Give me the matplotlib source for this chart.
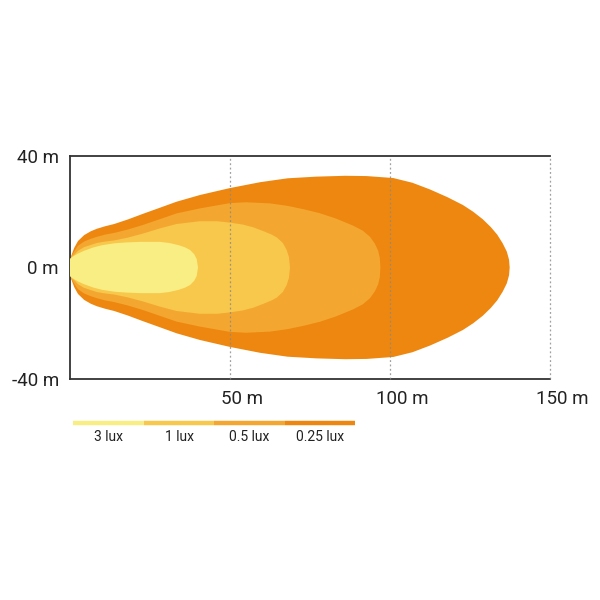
import matplotlib
matplotlib.use('Agg')
import matplotlib.pyplot as plt
from matplotlib.lines import Line2D
from matplotlib.transforms import ScaledTranslation

plt.rcParams['font.family'] = ['Roboto', 'DejaVu Sans']

# contour outlines, upper half (metres); the lower half is the mirror image
x_025 = [0, 0, 0.5, 1.3, 2.5, 4.4, 6.5, 8.4, 11, 13.8, 18, 22.9, 28, 33.3, 40.6, 50,
         59.4, 68, 77, 86, 92.7, 101, 107, 112.5, 118, 122.8, 126, 129, 131.5,
         133.5, 135.2, 136.5, 137.2, 137.4]
y_025 = [0, 3.0, 4.5, 7.0, 9.5, 11.6, 13.0, 13.9, 14.8, 15.6, 17.2, 19.3, 21.4, 23.6,
         26.0, 28.5, 30.6, 32.0, 32.6, 32.9, 32.8, 32.1, 30.4, 28.0, 25.2, 22.4,
         20.0, 17.3, 14.5, 11.8, 8.7, 5.7, 2.8, 0]

x_05 = [0, 0, 0.5, 1.3, 2.5, 4.4, 6.5, 8.4, 11, 13.8, 18, 22.9, 28, 33.3, 40.6, 50,
        55, 62.5, 68, 73, 78, 83, 88.5, 91.5, 93.75, 95.3, 96.3, 96.8, 97]
y_05 = [0, 3.0, 4.2, 5.7, 7.8, 9.3, 10.3, 11.0, 11.8, 12.4, 13.6, 15.3, 17.3, 19.4,
        21.2, 23.1, 23.4, 23.0, 22.1, 20.9, 19.5, 17.6, 15.0, 13.2, 11.0, 8.5, 6.0,
        3.5, 0]

x_1 = [0, 0, 0.5, 1.3, 2.5, 4.4, 6.5, 8.4, 11, 13.8, 18, 22.9, 28, 33.3, 40.6, 46,
       50, 54, 57.3, 60.5, 63, 64.6, 66.5, 67.7, 68.4, 68.75]
y_1 = [0, 3.0, 3.9, 4.5, 6.0, 7.3, 8.1, 8.8, 9.3, 9.7, 10.7, 12.2, 14.0, 15.6, 16.6,
       16.6, 16.1, 15.4, 14.4, 13.0, 11.8, 10.8, 8.8, 6.3, 3.8, 0]

x_3 = [0, 0, 0.5, 1.3, 2.5, 4.4, 7.3, 10, 14, 17.7, 22, 28, 31, 34, 36, 37.5, 38.8,
       39.6, 40]
y_3 = [0, 3.0, 3.6, 4.2, 5.0, 6.0, 7.2, 8.0, 8.7, 9.0, 9.2, 9.2, 8.8, 8.0, 7.2, 6.3,
       4.8, 3.0, 0]

lux_labels = ['3 lux', '1 lux', '0.5 lux', '0.25 lux']
lux_colors = ['#F9EE84', '#F8C84C', '#F3A731', '#EE870F']

x_ticks = [50, 100, 150]
x_ticklabels = ['50 m', '100 m', '150 m']
y_ticks = [-40, 0, 40]
y_ticklabels = ['-40 m', '0 m', '40 m']

fig = plt.figure(figsize=(6, 6), dpi=100)
ax = fig.add_axes([70 / 600, 1 - 379 / 600, 480 / 600, 223 / 600])

shapes = [(x_025, y_025, lux_colors[3]), (x_05, y_05, lux_colors[2]),
          (x_1, y_1, lux_colors[1]), (x_3, y_3, lux_colors[0])]
for i, (xs, ys, col) in enumerate(shapes):
    px = list(xs) + list(xs[::-1])
    py = list(ys) + [-v for v in ys[::-1]]
    ax.fill(px, py, color=col, lw=0, zorder=1 + i)

for xv in x_ticks:
    ax.axvline(xv, color='#888888', lw=0.9, ls=(0, (1.5, 2)), alpha=0.8, zorder=10,
               clip_on=False)

ax.set_xlim(0, 150)
ax.set_ylim(-40, 40)
ax.set_xticks(x_ticks)
ax.set_xticklabels(x_ticklabels)
ax.set_yticks(y_ticks)
ax.set_yticklabels(y_ticklabels)
ax.tick_params(length=0, labelsize=13.5, colors='#222222')
ax.tick_params(axis='x', pad=8)
ax.tick_params(axis='y', pad=8)
for lab in ax.get_xticklabels():
    lab.set_transform(lab.get_transform() + ScaledTranslation(12 / 100, 0, fig.dpi_scale_trans))

ax.spines['right'].set_visible(False)
for s in ['top', 'left', 'bottom']:
    ax.spines[s].set_color('#333333')
    ax.spines[s].set_linewidth(1.3)

# legend strip under the chart
seg_w = 70.5 / 600
x0 = 73.3 / 600
for i, (lab, col) in enumerate(zip(lux_labels, lux_colors)):
    fig.add_artist(Line2D([x0 + i * seg_w, x0 + (i + 1) * seg_w],
                          [1 - 423 / 600] * 2, color=col, lw=3.2,
                          solid_capstyle='butt', transform=fig.transFigure))
    fig.text(x0 + (i + 0.5) * seg_w, 1 - 437 / 600, lab, ha='center', va='center',
             fontsize=10, color='#222222')

fig.savefig('out.png', dpi=100, facecolor='white')
